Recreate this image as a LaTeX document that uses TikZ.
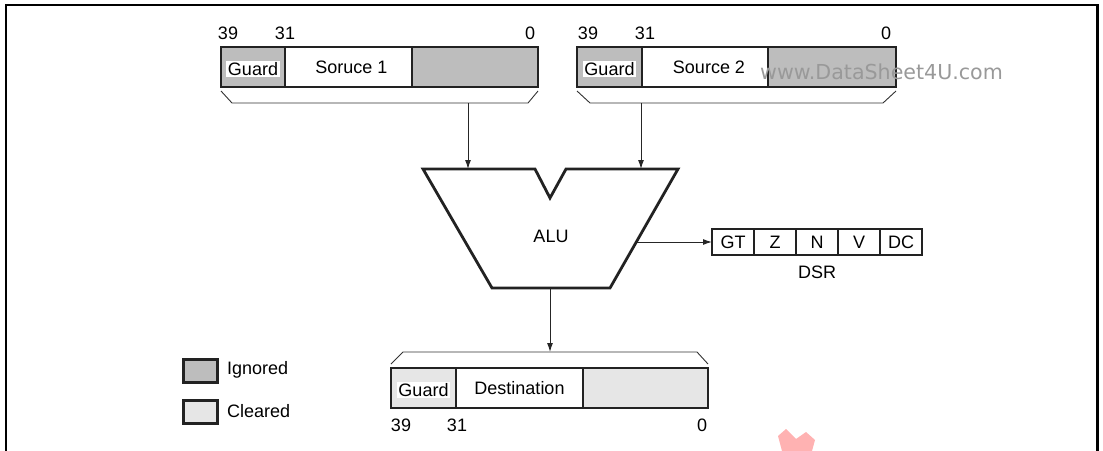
\documentclass[tikz,border=0pt]{standalone}
\usepackage{fontspec}
\setmainfont{Liberation Sans}
\newfontfamily\wmfont{DejaVu Sans}
\usetikzlibrary{arrows.meta}
\definecolor{ign}{HTML}{BDBDBD}
\definecolor{clr}{HTML}{E6E6E6}
\definecolor{edge}{HTML}{222222}
\begin{document}
\begin{tikzpicture}[x=1pt,y=-1pt,
  font=\fontsize{18}{21}\selectfont,
  cell/.style={draw=edge, line width=2.8pt, minimum height=40pt, inner sep=0pt, outer sep=0pt, anchor=north west},
  flag/.style={draw=edge, line width=2.4pt, minimum width=42pt, minimum height=26pt, inner sep=0pt, outer sep=0pt, anchor=north west},
  guardlbl/.style={fill=white, inner sep=1.5pt},
  bitlbl/.style={inner sep=0pt},
  brace/.style={draw=black!80, line width=0.9pt},
  conn/.style={draw=black!85, line width=1pt, -{Latex[length=9pt,width=6pt]}},
  alushape/.style={draw=edge, line width=2.8pt, line join=miter},
  legbox/.style={draw=edge, line width=2.8pt, minimum width=34pt, minimum height=23pt, inner sep=0pt, anchor=north west}
]
\useasboundingbox (0,0) rectangle (1103,450);

% frame
\draw[line width=2.6pt] (6,451) -- (6,5) -- (1097.5,5) -- (1097.5,451);

% ---- Source 1 ----
\node[cell, fill=ign, minimum width=64pt] (s1g) at (221,47) {};
\node[cell, fill=white, minimum width=127pt] (s1m) at (285,47) {};
\node[cell, fill=ign, minimum width=126pt] (s1r) at (412,47) {};
\node[guardlbl] (s1gl) at ([yshift=-2pt]s1g.center) {Guard};
\node (s1ml) at ([xshift=3pt]s1m.center) {Soruce 1};
\node[bitlbl] (s1b39) at (228,33) {39};
\node[bitlbl] (s1b31) at (285,33) {31};
\node[bitlbl] (s1b0) at (530,33) {0};
\coordinate (s1bl) at (221,91);
\coordinate (s1br) at (538,91);
\coordinate (s1out) at (468,103);
\draw[brace] (s1bl) -- (232,103) -- (528,103) -- (s1br);

% ---- Source 2 ----
\node[cell, fill=ign, minimum width=65pt] (s2g) at (577,47) {};
\node[cell, fill=white, minimum width=126pt] (s2m) at (642,47) {};
\node[cell, fill=ign, minimum width=128pt] (s2r) at (768,47) {};
\node[guardlbl] (s2gl) at ([yshift=-2pt]s2g.center) {Guard};
\node (s2ml) at ([xshift=4pt]s2m.center) {Source 2};
\node[bitlbl] (s2b39) at (588,33) {39};
\node[bitlbl] (s2b31) at (645,33) {31};
\node[bitlbl] (s2b0) at (886,33) {0};
\coordinate (s2bl) at (577,91);
\coordinate (s2br) at (896,91);
\coordinate (s2out) at (641,103);
\draw[brace] (s2bl) -- (590,103) -- (883,103) -- (s2br);

% watermark
\node[anchor=west, inner sep=0pt, text=black!40, font=\wmfont\fontsize{20.6}{22}\selectfont] (wm) at (760,72) {www.DataSheet4U.com};

% ---- ALU ----
\coordinate (atl) at (423,169);
\coordinate (atr) at (678,169);
\coordinate (abr) at (610,288);
\coordinate (abl) at (492,288);
\draw[alushape] (atl) -- (535,169) -- (550,198) -- (566,169) -- (atr) -- (abr) -- (abl) -- cycle;
\node (alu) at (551,236) {ALU};
\coordinate (ain1) at (468,169);
\coordinate (ain2) at (641,169);
\coordinate (aout) at (550,288);
\coordinate (aflag) at (636.5,242);
\draw[conn] (s1out) -- (ain1);
\draw[conn] (s2out) -- (ain2);

% ---- DSR ----
\node[flag] (gt) at (712,229) {GT};
\node[flag] (z) at (754,229) {Z};
\node[flag] (n) at (796,229) {N};
\node[flag] (v) at (838,229) {V};
\node[flag] (dc) at (880,229) {DC};
\node (dsr) at (817,272) {DSR};
\draw[conn] (aflag) -- (aflag -| gt.west);

% ---- Destination ----
\node[cell, fill=clr, minimum width=65pt] (dg) at (391,368) {};
\node[cell, fill=white, minimum width=127pt] (dm) at (456,368) {};
\node[cell, fill=clr, minimum width=125pt] (dr) at (583,368) {};
\node[guardlbl] (dgl) at ([yshift=-2pt]dg.center) {Guard};
\node (dml) at (dm.center) {Destination};
\node[bitlbl] (db39) at (401,425) {39};
\node[bitlbl] (db31) at (457,425) {31};
\node[bitlbl] (db0) at (702,425) {0};
\coordinate (dbl) at (391,364);
\coordinate (dbr) at (708,364);
\coordinate (din) at (550,352);
\draw[brace] (dbl) -- (403,352) -- (697,352) -- (dbr);
\draw[conn] (aout) -- (din);

% ---- Legend ----
\node[legbox, fill=ign] (lig) at (182,358) {};
\node[legbox, fill=clr] (lcl) at (182,399) {};
\node[anchor=west, inner sep=0pt] (ligt) at (227,370) {Ignored};
\node[anchor=west, inner sep=0pt] (lclt) at (227,411) {Cleared};

% watermark mark
\fill[red!30] (778,436) -- (786,429) -- (796,439) -- (806,432) -- (815,440) -- (812,451) -- (782,451) -- cycle;
\end{tikzpicture}
\end{document}
